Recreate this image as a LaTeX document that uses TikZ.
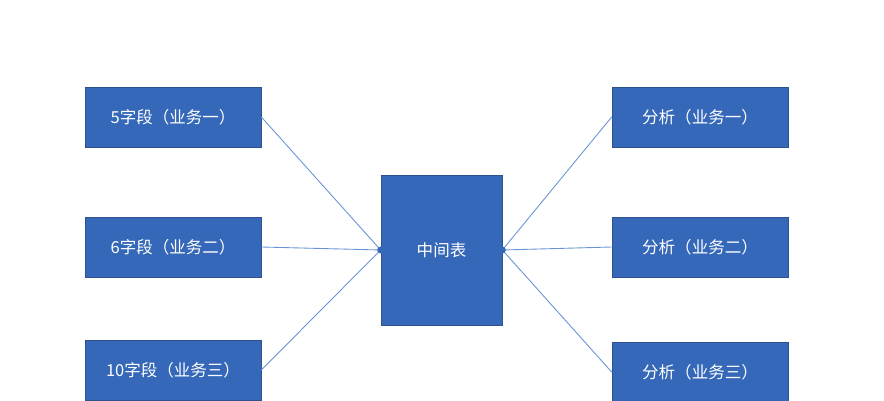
\documentclass[tikz,border=0pt]{standalone}
\usepackage{fontspec}
\newfontfamily\cjk{Noto Sans CJK SC}
\definecolor{boxblue}{HTML}{3568B8}
\definecolor{boxedge}{HTML}{2F528F}
\definecolor{linkblue}{HTML}{6A94D6}
\tikzset{
  box/.style={draw=boxedge,fill=boxblue,text=white,minimum width=3.52cm,minimum height=1.2cm,inner sep=0pt,font=\cjk\fontsize{9.4}{11}\selectfont},
  link/.style={draw=linkblue,line width=0.5pt}
}
\begin{document}
\begin{tikzpicture}
\useasboundingbox (0,0) rectangle (17.68,8);
%\draw (0,0) grid (17,8);
\node[box] (f5) at (3.46,5.66) {5字段（业务一）};
\node[box] (f6) at (3.46,3.06) {6字段（业务二）};
\node[box] (f10) at (3.46,0.6) {10字段（业务三）};
\node[box,minimum width=2.42cm,minimum height=3cm] (mid) at (8.83,3.0) {中间表};
\node[box] (a1) at (14.0,5.66) {分析（业务一）};
\node[box] (a2) at (14.0,3.06) {分析（业务二）};
\node[box] (a3) at (14.0,0.56) {分析（业务三）};
\draw[link] (f5.east)--(mid.west);
\draw[link] (f6.east)--(mid.west);
\draw[link] (f10.east)--(mid.west);
\draw[link] (mid.east)--(a1.west);
\draw[link] (mid.east)--(a2.west);
\draw[link] (mid.east)--(a3.west);
\fill[boxblue] (mid.west) circle (0.07);
\fill[boxblue] (mid.east) circle (0.07);
\end{tikzpicture}
\end{document}
